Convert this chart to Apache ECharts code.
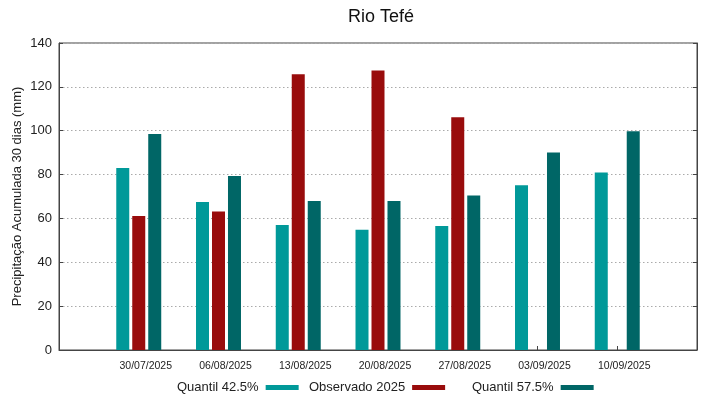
<!DOCTYPE html>
<html>
<head>
<meta charset="utf-8">
<script src="https://cdn.jsdelivr.net/npm/echarts@6/dist/echarts.min.js"></script>
<style>html,body{margin:0;padding:0;background:#fff}#c{width:719px;height:399px}</style>
</head>
<body>
<div id="c"></div>
<script>
const dates = ['30/07/2025','06/08/2025','13/08/2025','20/08/2025','27/08/2025','03/09/2025','10/09/2025'];
const q425 = [83, 67.5, 57, 54.8, 56.6, 75.1, 81];
const observed = [61.1, 63.2, 125.7, 127.5, 106.1, null, null];
const q575 = [98.5, 79.3, 68, 68, 70.5, 90.1, 99.7];
const yTicks = [0, 20, 40, 60, 80, 100, 120, 140];

const toPts = arr => arr.map((v, i) => [i + 1, v]).filter(p => p[1] !== null);
const font = 'Liberation Sans, Arial, sans-serif';
const chart = echarts.init(document.getElementById('c'));
const legendBase = {
  orient: 'horizontal', align: 'right', top: 381, itemWidth: 33, itemHeight: 5,
  icon: 'rect', textStyle: {fontFamily: font, fontSize: 13, color: '#222', padding: [0, 2, 0, 0]}, padding: 0
};
chart.setOption({
  animation: false,
  title: {text: 'Rio Tefé', left: 376, textAlign: 'center', top: 3,
    textStyle: {fontFamily: font, fontSize: 18, fontWeight: 'normal', color: '#111'}},
  legend: [
    Object.assign({}, legendBase, {left: 177, data: ['Quantil 42.5%']}),
    Object.assign({}, legendBase, {left: 309, data: ['Observado 2025']}),
    Object.assign({}, legendBase, {left: 472, data: ['Quantil 57.5%']})
  ],
  grid: {left: 59, right: 22, top: 43, bottom: 49, show: true, borderColor: '#444', borderWidth: 1,
    outerBoundsMode: 'none', containLabel: false},
  xAxis: {
    type: 'value', min: 0, max: 8, interval: 1,
    axisLine: {show: true, lineStyle: {color: '#444'}},
    axisTick: {show: true, inside: true, length: 4, lineStyle: {color: '#444'}},
    splitLine: {show: false},
    axisLabel: {fontFamily: font, fontSize: 10.5, color: '#222', margin: 11, padding: [0, 0, 0, 14],
      formatter: v => dates[v - 1] || ''}
  },
  yAxis: [{
    type: 'value', min: yTicks[0], max: yTicks[yTicks.length - 1], interval: 20,
    name: 'Precipitação Acumulada 30 dias (mm)', nameLocation: 'middle', nameGap: 35,
    nameMoveOverlap: false,
    nameTextStyle: {fontFamily: font, fontSize: 13, color: '#222'},
    axisLine: {show: true, lineStyle: {color: '#444'}},
    axisTick: {show: true, inside: true, length: 4, lineStyle: {color: '#444'}},
    axisLabel: {fontFamily: font, fontSize: 13, color: '#222', margin: 7},
    splitLine: {show: true, lineStyle: {color: '#aaa', type: [1.5, 2.5], width: 1}}
  }, {
    type: 'value', position: 'right', min: yTicks[0], max: yTicks[yTicks.length - 1], interval: 20,
    axisLine: {show: true, lineStyle: {color: '#444'}},
    axisTick: {show: true, inside: true, length: 4, lineStyle: {color: '#444'}},
    axisLabel: {show: false}, splitLine: {show: false}
  }],
  series: [
    {name: 'Quantil 42.5%', type: 'bar', data: toPts(q425), barWidth: 13, barGap: '23%',
      itemStyle: {color: '#009999'}},
    {name: 'Observado 2025', type: 'bar', data: toPts(observed), barWidth: 13, barGap: '23%',
      itemStyle: {color: '#990c0c'}},
    {name: 'Quantil 57.5%', type: 'bar', data: toPts(q575), barWidth: 13, barGap: '23%',
      itemStyle: {color: '#006666'}}
  ]
});
</script>
</body>
</html>
